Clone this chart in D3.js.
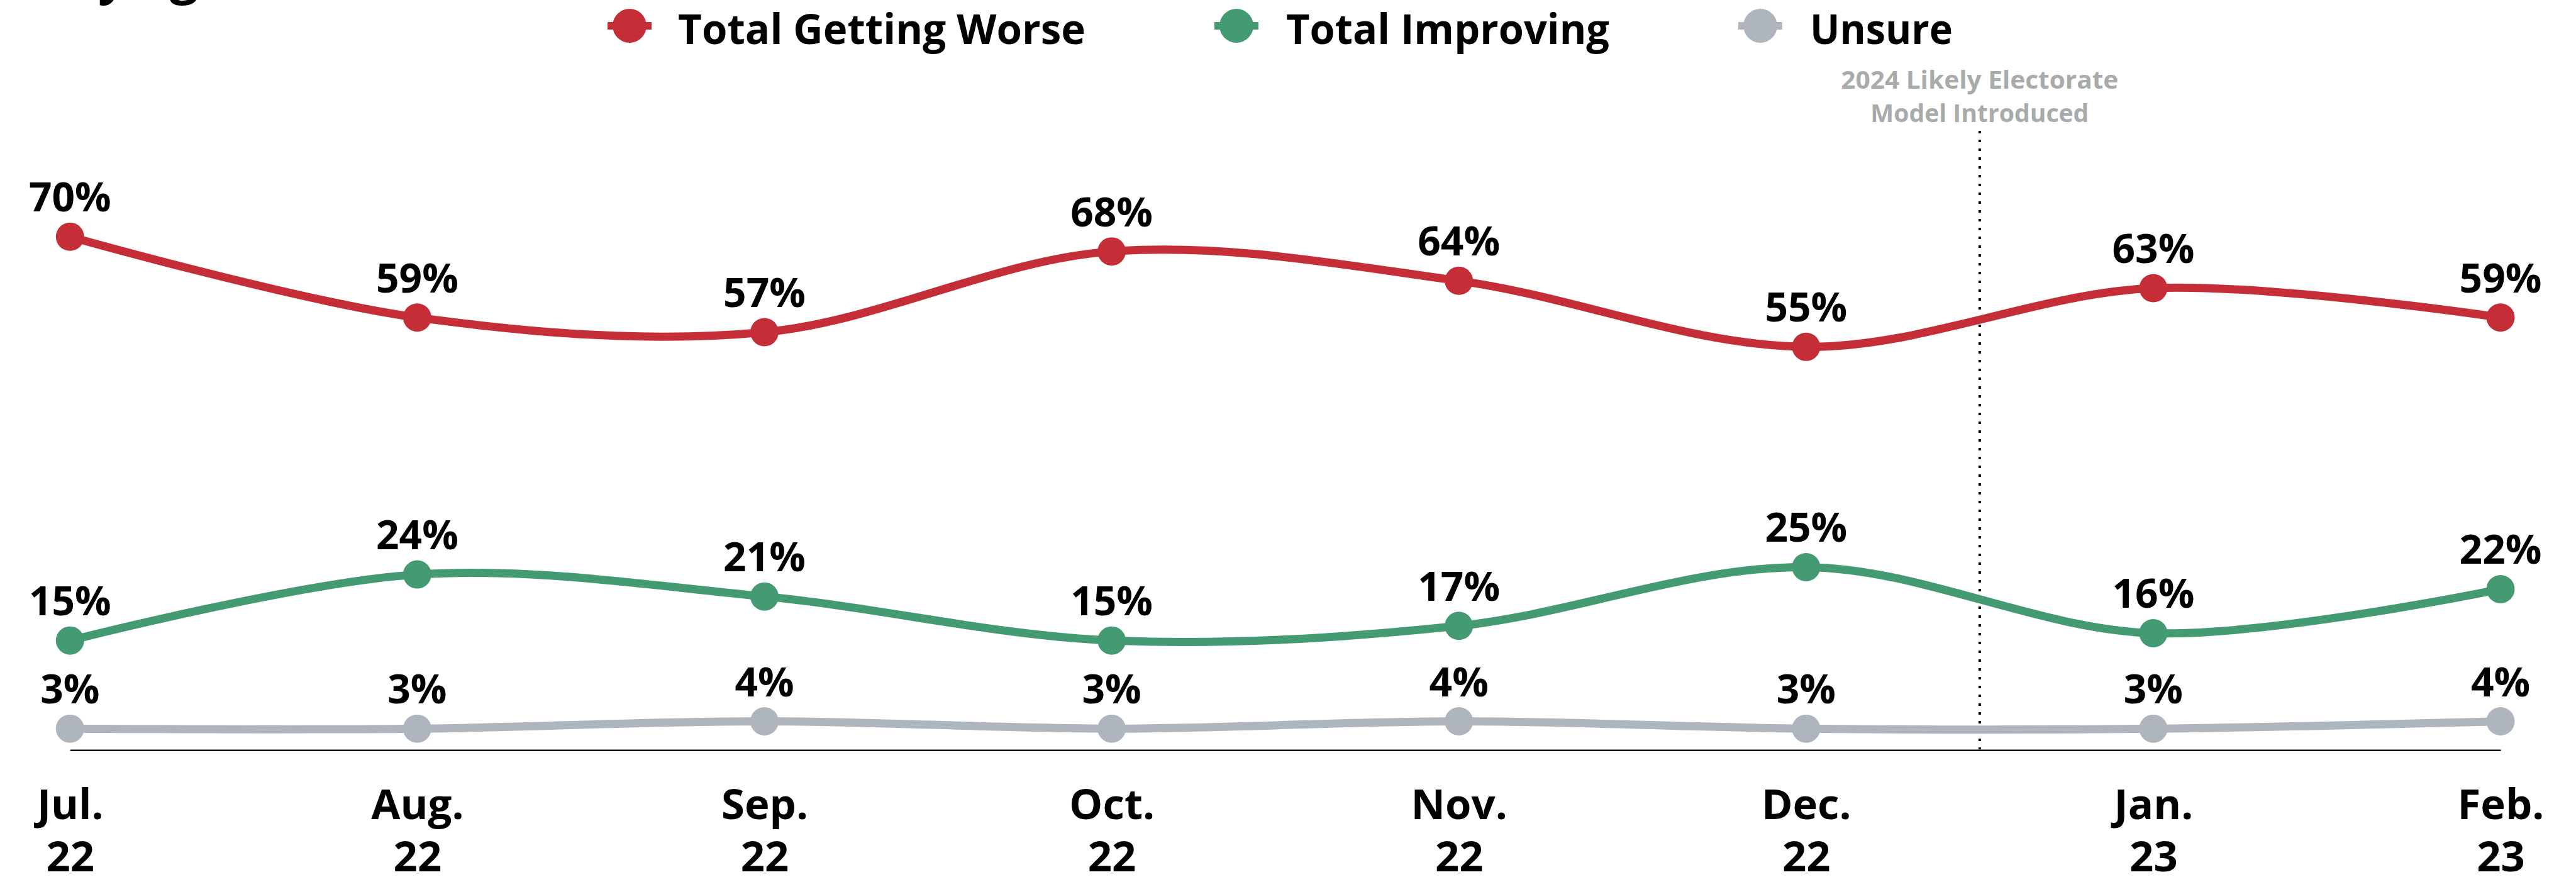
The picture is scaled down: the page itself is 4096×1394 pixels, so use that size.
<!DOCTYPE html>
<html>
<head>
<meta charset="utf-8">
<script src="https://cdn.jsdelivr.net/npm/d3@7"></script>
<style>
  html, body { margin: 0; padding: 0; background: #ffffff; overflow: hidden; }
  svg { display: block; }
  text { font-family: "Open Sans", "Noto Sans", sans-serif; }
</style>
</head>
<body>
<svg id="chart" width="4096" height="1394"></svg>
<script>
// ---- data ----
const months = ["Jul.", "Aug.", "Sep.", "Oct.", "Nov.", "Dec.", "Jan.", "Feb."];
const years = ["22", "22", "22", "22", "22", "22", "23", "23"];
const worse = [70, 59, 57, 68, 64, 55, 63, 59];
const improving = [15, 24, 21, 15, 17, 25, 16, 22];
const unsure = [3, 3, 4, 3, 4, 3, 3, 4];
const seriesNames = ["Total Getting Worse", "Total Improving", "Unsure"];
const seriesColors = ["#c62e37", "#449a73", "#afb5bc"];
const annotationLines = ["2024 Likely Electorate", "Model Introduced"];

const series = [
  { name: seriesNames[0], values: worse, color: seriesColors[0] },
  { name: seriesNames[1], values: improving, color: seriesColors[1] },
  { name: seriesNames[2], values: unsure, color: seriesColors[2] }
];

const svg = d3.select("#chart");

const x = d3.scalePoint().domain(d3.range(months.length)).range([111.3, 3976]);
const y = d3.scaleLinear().domain([0, 100]).range([1193.2, 26.2]);

// partially visible title (cropped at top of the image)
const title = svg.append("text")
  .attr("y", -10)
  .attr("font-size", 80)
  .attr("font-weight", 700)
  .attr("fill", "#000");
title.append("tspan").attr("x", 156).text("y");
title.append("tspan").attr("x", 270).text("g");

// x axis (baseline + two-line labels)
const axis = svg.append("g")
  .attr("transform", `translate(0,${y(0) - 1})`)
  .call(d3.axisBottom(x).tickSize(0).tickSizeOuter(0).tickFormat(""));
axis.select(".domain").attr("stroke", "#000").attr("stroke-width", 2.6);
axis.selectAll(".tick text").remove();
axis.selectAll(".tick").each(function(d) {
  const t = d3.select(this).append("text")
    .attr("text-anchor", "middle")
    .attr("font-size", 67)
    .attr("font-weight", 700)
    .attr("fill", "#000");
  t.append("tspan").attr("x", 0).attr("y", 110).text(months[d]);
  t.append("tspan").attr("x", 0).attr("y", 193).text(years[d]);
});

// vertical dotted divider between Dec. and Jan.
const divX = (x(5) + x(6)) / 2;
svg.append("line")
  .attr("x1", divX).attr("x2", divX)
  .attr("y1", 208).attr("y2", y(0) - 2)
  .attr("stroke", "#000")
  .attr("stroke-width", 4)
  .attr("stroke-dasharray", "4,10");

const annoWidths = [441, 347];
annotationLines.forEach((s, i) => {
  svg.append("text")
    .attr("x", divX).attr("y", 141 + i * 53)
    .attr("text-anchor", "middle")
    .attr("font-size", 39)
    .attr("font-weight", 700)
    .attr("fill", "#a7abaa")
    .attr("textLength", annoWidths[i])
    .attr("lengthAdjust", "spacingAndGlyphs")
    .text(s);
});

// lines
const line = d3.line()
  .x((d, i) => x(i))
  .y(d => y(d))
  .curve(d3.curveCatmullRom.alpha(0.5));

const g = svg.append("g");
series.slice().reverse().forEach(s => {
  g.append("path")
    .datum(s.values)
    .attr("d", line)
    .attr("fill", "none")
    .attr("stroke", s.color)
    .attr("stroke-width", 13)
    .attr("stroke-linecap", "round");
  g.selectAll(null)
    .data(s.values)
    .enter().append("circle")
    .attr("cx", (d, i) => x(i))
    .attr("cy", d => y(d))
    .attr("r", 22.5)
    .attr("fill", s.color);
  g.selectAll(null)
    .data(s.values)
    .enter().append("text")
    .attr("x", (d, i) => x(i))
    .attr("y", d => y(d) - 40)
    .attr("text-anchor", "middle")
    .attr("font-size", 64)
    .attr("font-weight", 700)
    .attr("fill", "#000")
    .text(d => d + "%");
});

// legend
const legendMarkX = [1001, 1966, 2799];
const legendTextX = [1078, 2045, 2878];
const legendTextW = [648, 514, 227];
series.forEach((s, i) => {
  const lg = svg.append("g");
  lg.append("rect")
    .attr("x", legendMarkX[i] - 35).attr("y", 41 - 6)
    .attr("width", 70).attr("height", 12)
    .attr("fill", s.color);
  lg.append("circle")
    .attr("cx", legendMarkX[i]).attr("cy", 41)
    .attr("r", 27)
    .attr("fill", s.color);
  lg.append("text")
    .attr("x", legendTextX[i]).attr("y", 70)
    .attr("font-size", 67)
    .attr("font-weight", 700)
    .attr("fill", "#000")
    .attr("textLength", legendTextW[i])
    .attr("lengthAdjust", "spacingAndGlyphs")
    .text(s.name);
});
</script>
</body>
</html>
